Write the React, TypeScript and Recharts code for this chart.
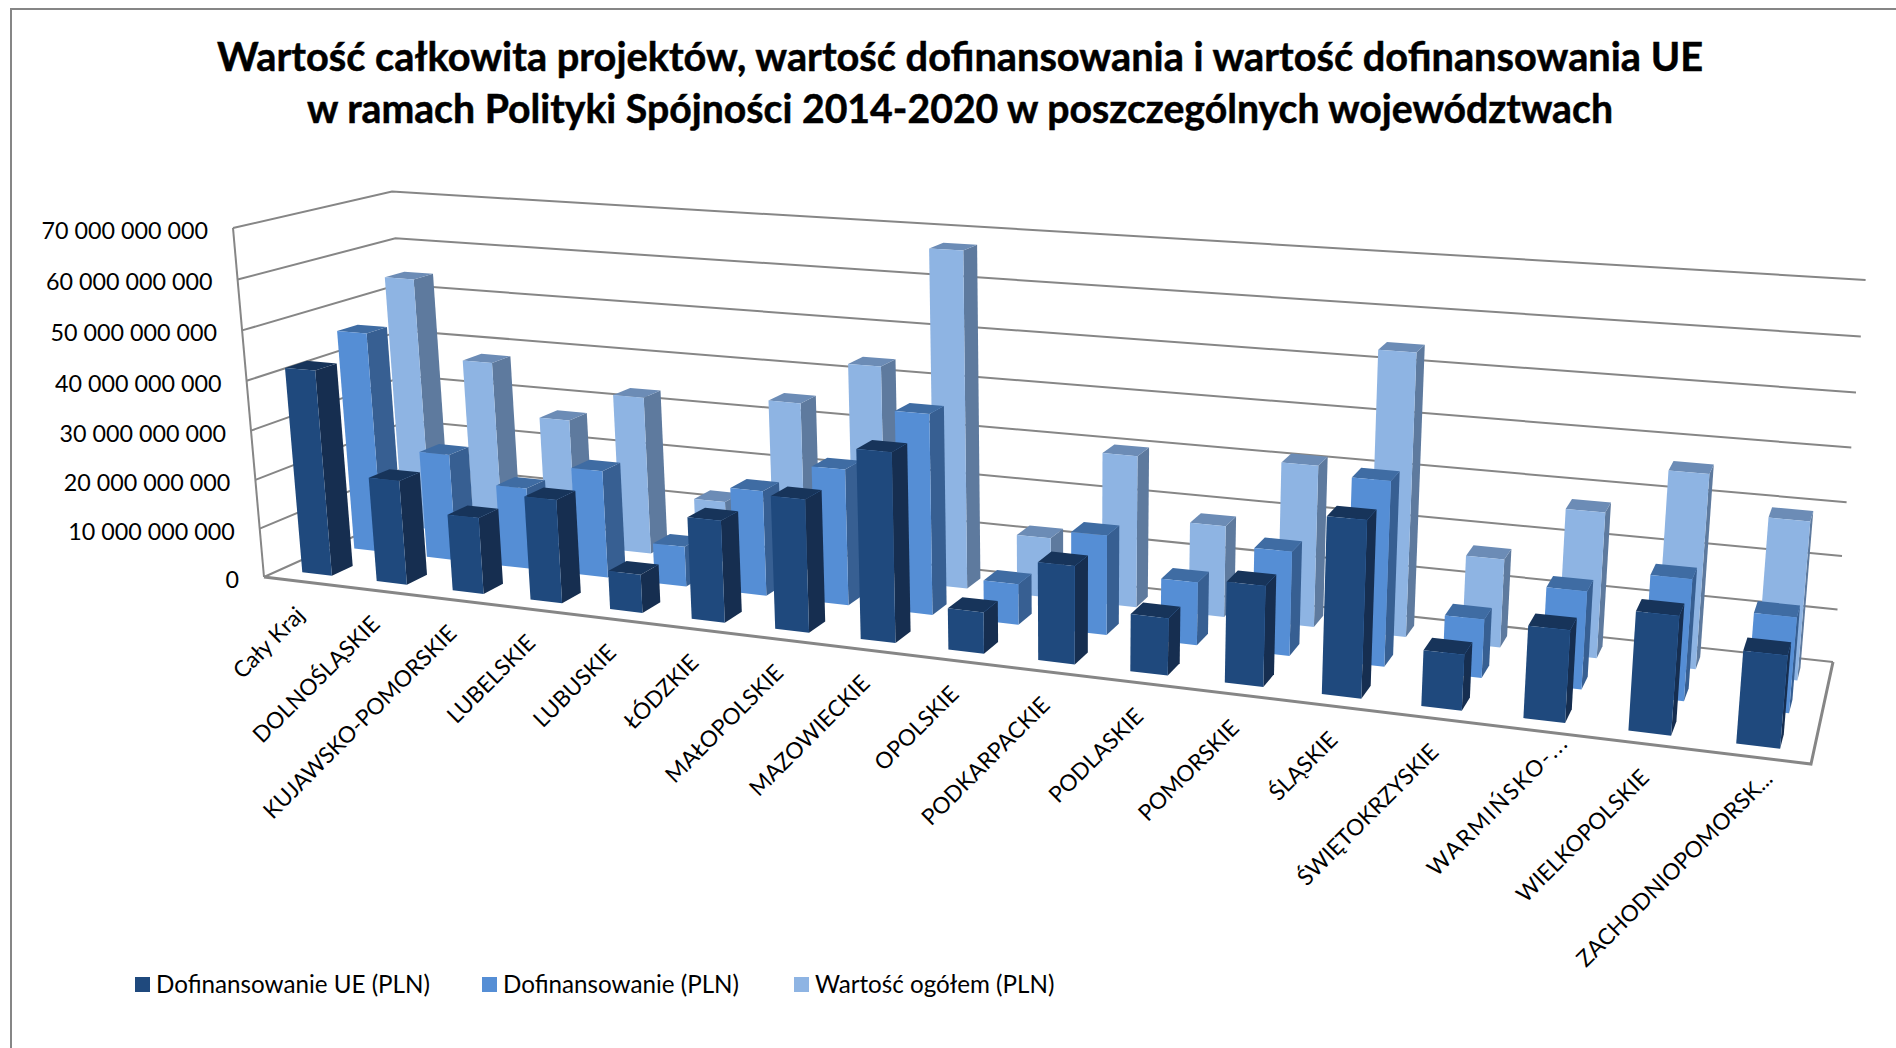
import { BarChart, Bar, XAxis, YAxis, CartesianGrid } from "recharts";

const regions = ["Cały Kraj", "DOLNOŚLĄSKIE", "KUJAWSKO-POMORSKIE", "LUBELSKIE", "LUBUSKIE", "ŁÓDZKIE", "MAŁOPOLSKIE", "MAZOWIECKIE", "OPOLSKIE", "PODKARPACKIE", "PODLASKIE", "POMORSKIE", "ŚLĄSKIE", "ŚWIĘTOKRZYSKIE", "WARMIŃSKO-...", "WIELKOPOLSKIE", "ZACHODNIOPOMORSK..."];

// values in PLN billions
const euFunding = [41.9, 21.2, 15.4, 20.7, 7.6, 20, 25.8, 36.3, 7.9, 18.5, 10.7, 18.6, 32.2, 10.1, 16.5, 21, 16.2];
const funding = [45.9, 22.2, 16.8, 22, 8.2, 21.2, 27.1, 39.4, 8, 19.3, 12.1, 19.8, 34.6, 10.9, 18, 22.1, 17.2];
const total = [54, 37.6, 26.8, 33, 12.7, 34.7, 43.5, 67.4, 12.1, 30.1, 18, 31.4, 54.1, 16.9, 27.5, 36.2, 29.3];

const yTicks = [0, 10, 20, 30, 40, 50, 60, 70];
const titleLines = [
  { text: "Wartość całkowita projektów, wartość dofinansowania i wartość dofinansowania UE", length: 1486 },
  { text: "w ramach Polityki Spójności 2014-2020 w poszczególnych województwach", length: 1306 },
];

const FONT = "Lato, sans-serif";
const GRID = "#868686";
const W = 1896;
const H = 1048;
// the chart's flat plot area, which gets projected into the 3D box below
const PLOT = { left: 100, top: 100, width: 1700, height: 700 };
const BAR_SIZE = 40;

const chartData = regions.map((name, i) => ({ name, eu: euFunding[i] * 1e9, funding: funding[i] * 1e9, total: total[i] * 1e9 }));

type Pt = [number, number];

// floor corners: front left, front right, back right, back left
const P0: Pt = [264, 577], P1: Pt = [1811, 764], P2: Pt = [1833, 662], P3: Pt = [415, 509];
const dx1 = P1[0] - P2[0], dx2 = P3[0] - P2[0], sx = P0[0] - P1[0] + P2[0] - P3[0];
const dy1 = P1[1] - P2[1], dy2 = P3[1] - P2[1], sy = P0[1] - P1[1] + P2[1] - P3[1];
const den = dx1 * dy2 - dx2 * dy1;
const g = (sx * dy2 - dx2 * sy) / den;
const h = (dx1 * sy - sx * dy1) / den;
const a = P1[0] - P0[0] + g * P1[0], b = P3[0] - P0[0] + h * P3[0];
const d = P1[1] - P0[1] + g * P1[1], e = P3[1] - P0[1] + h * P3[1];
// vertical axis: the front left corner at the top of the scale, and its perspective term
const TOP: Pt = [233, 228];
const r = -0.037;
const px = TOP[0] * (1 + r) - P0[0], py = TOP[1] * (1 + r) - P0[1];

function project(u: number, v: number, z: number): Pt {
  const w = g * u + h * z + 1 + r * v;
  return [(a * u + b * z + P0[0] + px * v) / w, (d * u + e * z + P0[1] + py * v) / w + 3 * u * v + 3 * (1 - u) * z * v];
}

const toU = (x: number) => (x - PLOT.left) / PLOT.width;
const toV = (y: number) => (PLOT.top + PLOT.height - y) / PLOT.height;
const poly = (pts: Pt[]) => pts.map((p) => p[0].toFixed(1) + "," + p[1].toFixed(1)).join(" ");

function Bar3D(props: any) {
  const { x, y, width, height, row, front, side, top } = props;
  const u0 = toU(x), u1 = toU(x + width);
  const v1 = toV(y), v0 = toV(y + height);
  const z0 = (row + 0.3) / 3, z1 = (row + 0.7) / 3;
  return (
    <g>
      <polygon points={poly([project(u1, v0, z0), project(u1, v0, z1), project(u1, v1, z1), project(u1, v1, z0)])} fill={side} />
      <polygon points={poly([project(u0, v1, z0), project(u1, v1, z0), project(u1, v1, z1), project(u0, v1, z1)])} fill={top} />
      <polygon points={poly([project(u0, v0, z0), project(u1, v0, z0), project(u1, v1, z0), project(u0, v1, z0)])} fill={front} />
    </g>
  );
}

function GridLine(props: any) {
  const v = toV(props.y1);
  return (
    <g>
      <polyline points={poly([project(0, v, 0), project(0, v, 1), project(1, v, 1)])} fill="none" stroke={GRID} strokeWidth={2} />
      {v < 0.001 && <polyline points={poly([project(0, 0, 0), project(1, 0, 0), project(1, 0, 1)])} fill="none" stroke={GRID} strokeWidth={3} />}
      {v > 0.999 && <polyline points={poly([project(0, 0, 0), project(0, 1, 0)])} fill="none" stroke={GRID} strokeWidth={2} />}
    </g>
  );
}

function CategoryTick(props: any) {
  const p = project(toU(props.x), 0, 0);
  const label: string = props.payload.value;
  // the two cut-off labels sit further along their diagonal in the original
  const isShort = label.startsWith("WARM");
  const isCut = label.endsWith("...");
  const tx = p[0] + 5 + (isShort ? 26 : isCut ? 14 : 0);
  const ty = p[1] + 35 - (isShort ? 22 : isCut ? 12 : 0);
  return (
    <text x={tx} y={ty} textAnchor="end" fontFamily={FONT} fontSize={22.6} letterSpacing={isShort ? 1.8 : 0} fill="#000" transform={`rotate(-45 ${tx} ${ty})`}>
      {label}
    </text>
  );
}

function ValueTick(props: any) {
  const p = project(0, toV(props.y), 0);
  return (
    <text x={p[0] - 25} y={p[1] + 11} textAnchor="end" fontFamily={FONT} fontSize={23.3} fill="#000">
      {new Intl.NumberFormat("pl-PL").format(props.payload.value).replace(/\s/g, " ")}
    </text>
  );
}

const legendItems = [
  { label: "Dofinansowanie UE (PLN)", color: "#1F497D", x: 135 },
  { label: "Dofinansowanie (PLN)", color: "#558ED5", x: 482 },
  { label: "Wartość ogółem (PLN)", color: "#8EB4E3", x: 794 },
];

export default function App() {
  return (
    <div style={{ position: "absolute", left: 0, top: 0, width: W, height: H, overflow: "hidden", background: "#fff" }}>
      <BarChart
        width={W}
        height={H}
        data={chartData}
        barSize={BAR_SIZE}
        barGap={-BAR_SIZE}
        barCategoryGap={0}
        margin={{ left: PLOT.left - 1, top: PLOT.top, right: W - PLOT.left - PLOT.width, bottom: H - PLOT.top - PLOT.height - 1 }}
      >
        <rect x={11} y={9} width={W} height={H} fill="none" stroke={GRID} strokeWidth={2} />
        {titleLines.map((line, i) => (
          <text key={line.text} x={960} y={71 + i * 52} textAnchor="middle" textLength={line.length} lengthAdjust="spacingAndGlyphs" fontFamily={FONT} fontWeight={700} fontSize={39.7} fill="#000" stroke="#000" strokeWidth={0.5}>
            {line.text}
          </text>
        ))}
        <CartesianGrid vertical={false} horizontal={GridLine as any} />
        <XAxis dataKey="name" height={1} axisLine={false} tickLine={false} interval={0} tick={CategoryTick as any} />
        <YAxis width={1} domain={[0, 70e9]} ticks={yTicks.map((t) => t * 1e9)} axisLine={false} tickLine={false} tick={ValueTick as any} />
        <Bar dataKey="total" isAnimationActive={false} shape={(p: any) => <Bar3D {...p} row={2} front="#8EB4E3" side="#5E7A9E" top="#6C8CB6" />} />
        <Bar dataKey="funding" isAnimationActive={false} shape={(p: any) => <Bar3D {...p} row={1} front="#558ED5" side="#375F92" top="#3F6CA3" />} />
        <Bar dataKey="eu" isAnimationActive={false} shape={(p: any) => <Bar3D {...p} row={0} front="#1F497D" side="#162E50" top="#17345A" />} />
        {legendItems.map((item) => (
          <g key={item.label}>
            <rect x={item.x} y={977} width={15} height={15} fill={item.color} />
            <text x={item.x + 21} y={993} fontFamily={FONT} fontSize={24.2} fill="#000">{item.label}</text>
          </g>
        ))}
      </BarChart>
    </div>
  );
}
